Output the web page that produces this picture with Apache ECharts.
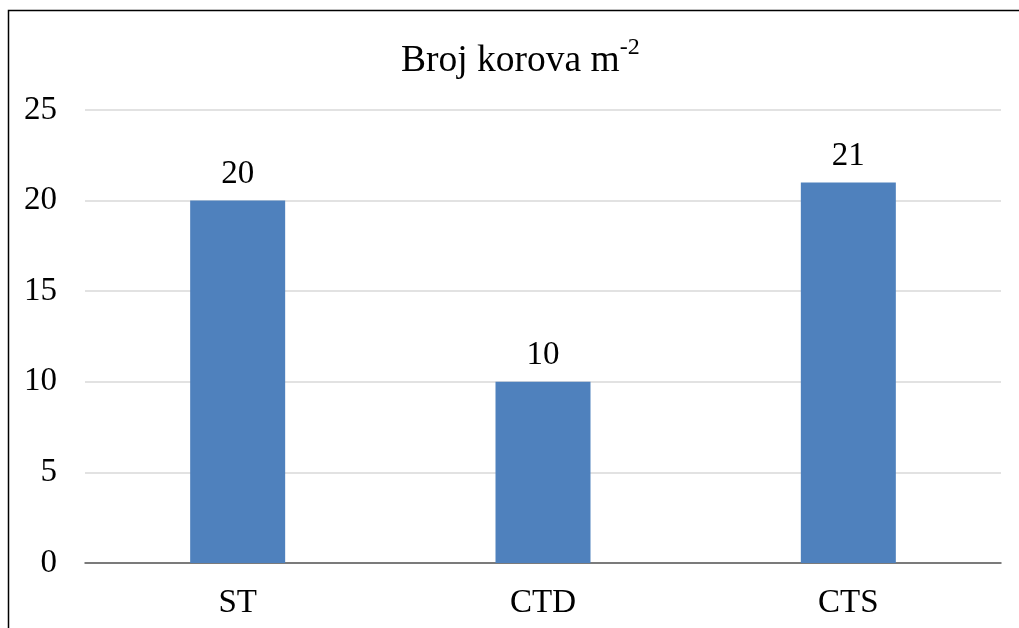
<!DOCTYPE html>
<html><head><meta charset="utf-8">
<script src="https://cdn.jsdelivr.net/npm/echarts@6/dist/echarts.min.js"></script>
<style>html,body{margin:0;padding:0;background:#fff}#c{width:1019px;height:628px}</style>
</head><body><div id="c"></div>
<script>
const categories = ['ST', 'CTD', 'CTS'];
const values = [20, 10, 21];
const yTicks = [0, 5, 10, 15, 20, 25];
const titleMain = 'Broj korova m';
const titleSup = '-2';

const chart = echarts.init(document.getElementById('c'), null, {renderer: 'canvas'});
const font = '"Liberation Serif", "Times New Roman", serif';
chart.setOption({
  backgroundColor: '#fff',
  animation: false,
  graphic: [{
    type: 'rect', silent: true, z: 100,
    shape: {x: 8.5, y: 10.5, width: 1200, height: 1000},
    style: {fill: 'none', stroke: '#000', lineWidth: 1.5}
  }],
  title: {
    text: '{m|' + titleMain + '}{s|' + titleSup + '}',
    left: 396, top: 31,
    textStyle: {
      fontWeight: 'normal',
      rich: {
        m: {fontFamily: font, fontSize: 37.5, fontWeight: 'normal', color: '#000', verticalAlign: 'bottom', lineHeight: 44},
        s: {fontFamily: font, fontSize: 24, fontWeight: 'normal', color: '#000', verticalAlign: 'top', lineHeight: 44, padding: [0,0,16,0]}
      }
    }
  },
  grid: {left: 85, right: 18, top: 110, bottom: 65, containLabel: false},
  xAxis: {
    type: 'category', data: categories,
    axisLine: {lineStyle: {color: '#595959', width: 1.5}},
    axisTick: {show: false},
    axisLabel: {fontFamily: font, fontSize: 33, color: '#000', margin: 24}
  },
  yAxis: {
    type: 'value', min: 0, max: 25, interval: 5,
    axisLine: {show: false}, axisTick: {show: false},
    axisLabel: {fontFamily: font, fontSize: 33, color: '#000', margin: 28,
      formatter: v => yTicks.includes(v) ? String(v) : ''},
    splitLine: {lineStyle: {color: '#d9d9d9', width: 1.5}}
  },
  series: [{
    type: 'bar', data: values, barWidth: 95,
    itemStyle: {color: '#4F81BD'},
    label: {show: true, position: 'top', distance: 10, fontFamily: font, fontSize: 33, color: '#000'}
  }]
});
</script></body></html>
